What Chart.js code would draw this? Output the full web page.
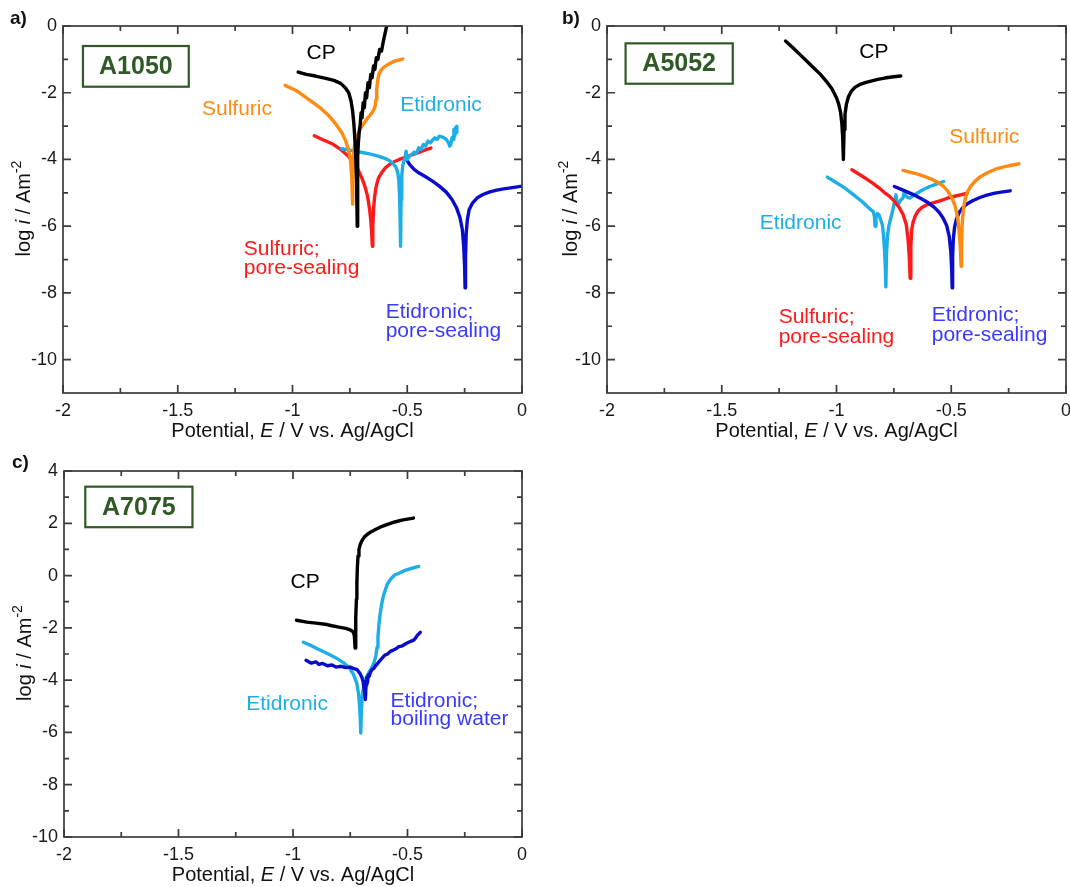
<!DOCTYPE html>
<html>
<head>
<meta charset="utf-8">
<script src="https://cdn.jsdelivr.net/npm/chart.js@4.4.0/dist/chart.umd.min.js"></script>
<style>
  html, body { margin: 0; padding: 0; background: #fff; overflow: hidden; width: 1070px; height: 887px; }
  canvas { position: absolute; }
</style>
</head>
<body>
<canvas id="pa" width="540" height="445" style="left:0;top:0"></canvas>
<canvas id="pb" width="545" height="445" style="left:540px;top:0"></canvas>
<canvas id="pc" width="540" height="442" style="left:0;top:445px"></canvas>
<script>
const FONT = '"Liberation Sans", Arial, Helvetica, sans-serif';
const COL = { cp: '#000000', sulf: '#ff8a12', etid: '#1eaee6', sulfSeal: '#ff1a1a', etidSeal: '#0a0ccc' };

// axis ticks (potential / V, log i / A m^-2)
const xTicks = [-2, -1.5, -1, -0.5, 0];
const xMinor = [-1.75, -1.25, -0.75, -0.25];
const yTicksAB = [0, -2, -4, -6, -8, -10];
const yMinorAB = [-1, -3, -5, -7, -9];
const yTicksC = [4, 2, 0, -2, -4, -6, -8, -10];
const yMinorC = [3, 1, -1, -3, -5, -7, -9];

// ---- a) A1050
const aCP_E = [-0.975,-0.94,-0.9,-0.86,-0.82,-0.79,-0.77,-0.755,-0.745,-0.738,-0.733,-0.729,-0.725,-0.721,-0.718,
  -0.716,-0.713,-0.709,-0.705,-0.701,-0.697,-0.692,-0.687,-0.682,-0.677,-0.671,-0.665,-0.659,-0.653,-0.647,-0.641,-0.635,-0.628,-0.62,-0.612,-0.604,-0.596,-0.588];
const aCP_y = [-1.38,-1.45,-1.5,-1.56,-1.63,-1.72,-1.85,-2.0,-2.25,-2.55,-2.9,-3.3,-3.8,-4.6,-6.0,
  -3.9,-3.5,-3.15,-2.95,-2.6,-2.75,-2.3,-2.45,-2.0,-2.15,-1.7,-1.85,-1.45,-1.55,-1.2,-1.3,-0.95,-1.0,-0.7,-0.75,-0.45,-0.2,0.05];
const aSulf_E = [-1.032,-0.98,-0.93,-0.88,-0.84,-0.81,-0.785,-0.768,-0.756,-0.748,-0.742,-0.738,
  -0.735,-0.73,-0.722,-0.712,-0.702,-0.692,-0.682,-0.672,-0.662,-0.652,-0.645,-0.64,-0.636,-0.633,-0.629,-0.624,-0.615,-0.603,-0.588,-0.57,-0.548,-0.52];
const aSulf_y = [-1.78,-1.95,-2.2,-2.45,-2.7,-2.95,-3.2,-3.45,-3.7,-4.0,-4.5,-5.34,
  -3.9,-3.6,-3.35,-3.2,-3.05,-2.95,-2.85,-2.75,-2.68,-2.58,-2.5,-2.4,-2.2,-1.9,-1.65,-1.45,-1.33,-1.24,-1.17,-1.1,-1.04,-0.99];
const aSulfSeal_E = [-0.905,-0.87,-0.83,-0.79,-0.76,-0.735,-0.715,-0.698,-0.685,-0.673,-0.665,-0.659,-0.655,-0.652,
  -0.65,-0.647,-0.642,-0.635,-0.625,-0.61,-0.595,-0.575,-0.555,-0.535,-0.515,-0.495,-0.475,-0.455,-0.435,-0.415,-0.397];
const aSulfSeal_y = [-3.29,-3.4,-3.52,-3.7,-3.88,-4.08,-4.3,-4.55,-4.8,-5.1,-5.45,-5.8,-6.2,-6.6,
  -6.0,-5.5,-5.1,-4.8,-4.55,-4.38,-4.25,-4.14,-4.06,-4.0,-3.95,-3.9,-3.85,-3.8,-3.75,-3.7,-3.66];
const aEtid_E = [-0.786,-0.75,-0.72,-0.69,-0.66,-0.63,-0.6,-0.578,-0.562,-0.55,-0.542,-0.537,-0.534,-0.531,-0.529,
  -0.527,-0.524,-0.52,-0.515,-0.51,-0.505,-0.5,-0.49,-0.48,-0.47,-0.46,-0.45,-0.44,-0.43,-0.42,-0.41,-0.4,-0.39,-0.38,-0.37,-0.36,-0.35,-0.34,-0.33,-0.32,-0.315,-0.31,-0.305,-0.3,-0.297,-0.293,-0.29,-0.287,-0.284];
const aEtid_y = [-3.68,-3.72,-3.76,-3.8,-3.84,-3.89,-3.96,-4.03,-4.12,-4.22,-4.37,-4.6,-5.0,-5.8,-6.6,
  -5.2,-4.5,-4.2,-4.05,-3.95,-3.75,-4.0,-3.9,-3.85,-3.78,-3.82,-3.65,-3.7,-3.55,-3.6,-3.45,-3.5,-3.42,-3.35,-3.4,-3.3,-3.32,-3.35,-3.4,-3.5,-3.6,-3.55,-3.35,-3.4,-3.1,-3.3,-3.05,-3.2,-3.0];
const aEtidSeal_E = [-0.502,-0.49,-0.47,-0.45,-0.42,-0.39,-0.36,-0.33,-0.305,-0.285,-0.27,-0.26,-0.254,-0.25,-0.248,
  -0.246,-0.243,-0.238,-0.23,-0.215,-0.195,-0.17,-0.14,-0.11,-0.08,-0.05,-0.02,0];
const aEtidSeal_y = [-4.01,-4.15,-4.3,-4.4,-4.52,-4.65,-4.8,-4.98,-5.2,-5.45,-5.75,-6.1,-6.6,-7.2,-7.85,
  -6.9,-6.2,-5.8,-5.5,-5.3,-5.15,-5.05,-4.97,-4.92,-4.88,-4.85,-4.82,-4.8];

// ---- b) A5052
const bCP_E = [-1.222,-1.19,-1.16,-1.13,-1.1,-1.07,-1.045,-1.02,-1.0,-0.99,-0.982,-0.977,-0.973,-0.97,
  -0.967,-0.963,-0.957,-0.948,-0.935,-0.92,-0.9,-0.875,-0.85,-0.82,-0.79,-0.76,-0.72];
const bCP_y = [-0.45,-0.65,-0.85,-1.05,-1.25,-1.45,-1.65,-1.88,-2.15,-2.35,-2.6,-2.9,-3.35,-4.0,
  -3.1,-2.65,-2.35,-2.12,-1.95,-1.84,-1.76,-1.7,-1.65,-1.6,-1.56,-1.53,-1.5];
const bSulf_E = [-0.71,-0.68,-0.65,-0.62,-0.59,-0.56,-0.535,-0.515,-0.497,-0.483,-0.472,-0.465,-0.46,-0.457,
  -0.455,-0.452,-0.447,-0.44,-0.43,-0.415,-0.395,-0.37,-0.34,-0.31,-0.28,-0.25,-0.22,-0.205];
const bSulf_y = [-4.33,-4.38,-4.43,-4.5,-4.58,-4.68,-4.8,-4.95,-5.15,-5.4,-5.75,-6.2,-6.7,-7.2,
  -6.4,-5.9,-5.5,-5.2,-4.98,-4.8,-4.64,-4.5,-4.39,-4.3,-4.24,-4.19,-4.15,-4.13];
const bSulfSeal_E = [-0.933,-0.9,-0.87,-0.844,-0.815,-0.79,-0.77,-0.748,-0.726,-0.71,-0.696,-0.688,-0.683,-0.679,
  -0.676,-0.672,-0.667,-0.657,-0.645,-0.63,-0.61,-0.58,-0.55,-0.52,-0.49,-0.46,-0.43];
const bSulfSeal_y = [-4.31,-4.45,-4.58,-4.7,-4.85,-5.0,-5.1,-5.25,-5.45,-5.65,-5.95,-6.4,-6.9,-7.56,
  -6.6,-6.1,-5.9,-5.7,-5.55,-5.45,-5.37,-5.3,-5.24,-5.17,-5.11,-5.06,-5.01];
const bEtid_E = [-1.04,-1.0,-0.963,-0.925,-0.889,-0.86,-0.84,-0.835,-0.832,-0.828,-0.822,-0.815,-0.808,-0.8,-0.795,-0.79,-0.787,-0.785,
  -0.782,-0.778,-0.772,-0.765,-0.756,-0.748,-0.741,-0.737,-0.733,-0.725,-0.718,-0.711,-0.707,-0.704,-0.698,-0.69,-0.681,-0.66,-0.637,-0.615,-0.593,-0.565,-0.533];
const bEtid_y = [-4.53,-4.7,-4.86,-5.06,-5.26,-5.45,-5.56,-5.7,-6.0,-5.7,-5.62,-5.66,-5.8,-5.96,-6.3,-6.8,-7.3,-7.82,
  -6.8,-6.3,-6.0,-5.8,-5.56,-5.3,-5.06,-5.25,-5.36,-5.28,-5.2,-5.16,-5.05,-4.96,-5.08,-5.14,-5.16,-5.06,-4.96,-4.88,-4.81,-4.74,-4.66];
const bEtidSeal_E = [-0.748,-0.72,-0.69,-0.66,-0.63,-0.6,-0.575,-0.553,-0.535,-0.52,-0.509,-0.502,-0.498,-0.496,
  -0.494,-0.491,-0.486,-0.478,-0.466,-0.45,-0.43,-0.405,-0.375,-0.345,-0.31,-0.275,-0.243];
const bEtidSeal_y = [-4.81,-4.89,-4.98,-5.07,-5.18,-5.3,-5.43,-5.58,-5.76,-5.98,-6.3,-6.75,-7.3,-7.85,
  -6.9,-6.4,-6.05,-5.8,-5.6,-5.45,-5.33,-5.23,-5.14,-5.07,-5.01,-4.97,-4.94];

// ---- c) A7075
const cCP_E = [-0.985,-0.94,-0.9,-0.86,-0.83,-0.8,-0.77,-0.75,-0.737,-0.732,-0.729,
  -0.727,-0.725,-0.723,-0.721,-0.719,-0.716,-0.712,-0.706,-0.698,-0.688,-0.675,-0.66,-0.64,-0.617,-0.59,-0.556,-0.52,-0.474];
const cCP_y = [-1.71,-1.78,-1.82,-1.86,-1.92,-1.97,-2.02,-2.08,-2.15,-2.3,-2.77,
  -2.3,-1.6,-0.9,-0.3,0.3,0.75,1.0,1.2,1.35,1.48,1.58,1.67,1.76,1.86,1.95,2.05,2.13,2.2];
const cEtid_E = [-0.955,-0.92,-0.887,-0.85,-0.812,-0.78,-0.752,-0.735,-0.722,-0.714,-0.709,-0.706,-0.704,
  -0.701,-0.697,-0.69,-0.68,-0.668,-0.655,-0.645,-0.638,-0.633,-0.629,-0.625,-0.62,-0.614,-0.606,-0.597,-0.587,-0.572,-0.556,-0.535,-0.511,-0.48,-0.451];
const cEtid_y = [-2.55,-2.68,-2.83,-2.98,-3.15,-3.33,-3.55,-3.8,-4.1,-4.5,-5.0,-5.5,-6.02,
  -5.1,-4.55,-4.2,-3.9,-3.7,-3.5,-3.3,-3.05,-2.75,-2.35,-1.9,-1.5,-1.15,-0.8,-0.55,-0.3,-0.12,0.02,0.1,0.2,0.28,0.35];
const cEtidBoil_E = [-0.943,-0.92,-0.9,-0.887,-0.87,-0.85,-0.83,-0.812,-0.79,-0.77,-0.75,-0.737,-0.72,-0.707,-0.699,-0.694,-0.69,-0.687,-0.684,
  -0.681,-0.678,-0.675,-0.671,-0.667,-0.662,-0.655,-0.647,-0.64,-0.632,-0.62,-0.61,-0.6,-0.587,-0.575,-0.562,-0.55,-0.538,-0.526,-0.51,-0.495,-0.481,-0.47,-0.458,-0.444];
const cEtidBoil_y = [-3.24,-3.35,-3.3,-3.4,-3.36,-3.45,-3.42,-3.5,-3.47,-3.52,-3.5,-3.55,-3.6,-3.75,-3.9,-4.05,-4.3,-4.5,-4.74,
  -4.2,-3.9,-4.1,-3.8,-3.85,-3.7,-3.6,-3.55,-3.45,-3.38,-3.25,-3.15,-3.05,-3.0,-2.9,-2.85,-2.8,-2.72,-2.7,-2.62,-2.55,-2.5,-2.45,-2.3,-2.17];

const pts = (E, y) => E.map((e, i) => ({ x: e, y: y[i] }));
const line = (E, y, color) => ({
  data: pts(E, y), borderColor: color, backgroundColor: color, borderWidth: 3.4,
  showLine: true, pointRadius: 0, tension: 0, borderJoinStyle: 'round', borderCapStyle: 'round'
});

function rich(ctx, parts, cx, cy) {
  let w = 0;
  parts.forEach(p => { ctx.font = p.f; p.w = ctx.measureText(p.t).width; w += p.w; });
  let x = cx - w / 2;
  ctx.textAlign = 'left';
  ctx.textBaseline = 'middle';
  parts.forEach(p => { ctx.font = p.f; ctx.fillText(p.t, x, cy + (p.dy || 0)); x += p.w; });
}

const decor = {
  id: 'decor',
  afterDraw(chart, args, o) {
    const ctx = chart.ctx, a = chart.chartArea, sx = chart.scales.x, sy = chart.scales.y;
    ctx.save();
    // frame and inward ticks on all four sides
    ctx.strokeStyle = '#3a3a3a';
    ctx.lineWidth = 1.7;
    ctx.strokeRect(a.left, a.top, a.right - a.left, a.bottom - a.top);
    ctx.beginPath();
    const xt = (vals, len) => vals.forEach(v => {
      const px = sx.getPixelForValue(v);
      ctx.moveTo(px, a.bottom); ctx.lineTo(px, a.bottom - len);
      ctx.moveTo(px, a.top); ctx.lineTo(px, a.top + len);
    });
    const yt = (vals, len) => vals.forEach(v => {
      const py = sy.getPixelForValue(v);
      ctx.moveTo(a.left, py); ctx.lineTo(a.left + len, py);
      ctx.moveTo(a.right, py); ctx.lineTo(a.right - len, py);
    });
    xt(xTicks, 8); xt(xMinor, 5); yt(o.yMajor, 8); yt(o.yMinor, 5);
    ctx.stroke();

    // alloy box
    const b = o.box;
    const bx1 = sx.getPixelForValue(b.x1), bx2 = sx.getPixelForValue(b.x2);
    const by1 = sy.getPixelForValue(b.y1), by2 = sy.getPixelForValue(b.y2);
    ctx.strokeStyle = '#2f5a26';
    ctx.lineWidth = 2.2;
    ctx.strokeRect(bx1, by1, bx2 - bx1, by2 - by1);
    ctx.fillStyle = '#2f5a26';
    ctx.font = `bold 25px ${FONT}`;
    ctx.textAlign = 'center';
    ctx.textBaseline = 'middle';
    ctx.fillText(b.t, (bx1 + bx2) / 2, (by1 + by2) / 2 + 1);

    // curve labels
    o.labels.forEach(l => {
      ctx.fillStyle = l.c;
      ctx.font = `21px ${FONT}`;
      ctx.textAlign = l.align || 'center';
      ctx.textBaseline = 'middle';
      ctx.fillText(l.t, sx.getPixelForValue(l.x), sy.getPixelForValue(l.y));
    });

    // panel letter
    ctx.fillStyle = '#111';
    ctx.font = `bold 19px ${FONT}`;
    ctx.textAlign = 'left';
    ctx.textBaseline = 'middle';
    ctx.fillText(o.letter, o.letterX, o.letterY);

    // axis titles
    ctx.fillStyle = '#111';
    rich(ctx, [
      { t: 'Potential, ', f: `20px ${FONT}` },
      { t: 'E', f: `italic 20px ${FONT}` },
      { t: ' / V vs. Ag/AgCl', f: `20px ${FONT}` }
    ], (a.left + a.right) / 2, a.bottom + 38);
    ctx.translate(o.yTitleX, (a.top + a.bottom) / 2 - 1);
    ctx.rotate(-Math.PI / 2);
    rich(ctx, [
      { t: 'log ', f: `20px ${FONT}` },
      { t: 'i', f: `italic 20px ${FONT}` },
      { t: ' / Am', f: `20px ${FONT}` },
      { t: '-2', f: `14px ${FONT}`, dy: -7 }
    ], 0, 0);
    ctx.restore();
  }
};

function panel(id, datasets, yMin, yMax, yTicks, deco, pad, yW, xH) {
  return new Chart(document.getElementById(id), {
    type: 'scatter',
    data: { datasets },
    options: {
      responsive: false,
      animation: false,
      devicePixelRatio: 1,
      layout: { padding: pad },
      plugins: { legend: { display: false }, tooltip: { enabled: false }, decor: deco },
      scales: {
        x: {
          type: 'linear', min: -2, max: 0,
          grid: { display: false, drawTicks: false }, border: { display: false },
          afterBuildTicks: s => { s.ticks = xTicks.map(v => ({ value: v })); },
          afterFit: s => { s.height = xH; },
          ticks: { callback: v => String(v), font: { size: 18, family: FONT }, color: '#1a1a1a', padding: 7, maxRotation: 0, autoSkip: false }
        },
        y: {
          type: 'linear', min: yMin, max: yMax,
          grid: { display: false, drawTicks: false }, border: { display: false },
          afterBuildTicks: s => { s.ticks = yTicks.map(v => ({ value: v })); },
          afterFit: s => { s.width = yW; },
          ticks: { callback: v => String(v), font: { size: 18, family: FONT }, color: '#1a1a1a', padding: 6, autoSkip: false }
        }
      }
    },
    plugins: [decor]
  });
}

panel('pa', [
  line(aCP_E, aCP_y, COL.cp),
  line(aSulf_E, aSulf_y, COL.sulf),
  line(aEtid_E, aEtid_y, COL.etid),
  line(aSulfSeal_E, aSulfSeal_y, COL.sulfSeal),
  line(aEtidSeal_E, aEtidSeal_y, COL.etidSeal)
], -11, 0, yTicksAB, {
  yMajor: yTicksAB, yMinor: yMinorAB, letter: 'a)', letterX: 10, letterY: 19, yTitleX: 24,
  box: { t: 'A1050', x1: -1.913, x2: -1.452, y1: -0.6, y2: -1.82 },
  labels: [
    { t: 'CP', x: -0.875, y: -0.82, c: '#000' },
    { t: 'Sulfuric', x: -1.242, y: -2.5, c: COL.sulf },
    { t: 'Etidronic', x: -0.353, y: -2.38, c: COL.etid },
    { t: 'Sulfuric;', x: -1.212, y: -6.69, c: COL.sulfSeal, align: 'left' },
    { t: 'pore-sealing', x: -1.212, y: -7.27, c: COL.sulfSeal, align: 'left' },
    { t: 'Etidronic;', x: -0.594, y: -8.58, c: '#3a3aff', align: 'left' },
    { t: 'pore-sealing', x: -0.594, y: -9.16, c: '#3a3aff', align: 'left' }
  ]
}, { top: 26, right: 18, left: 0, bottom: 0 }, 63, 52);

panel('pb', [
  line(bCP_E, bCP_y, COL.cp),
  line(bSulf_E, bSulf_y, COL.sulf),
  line(bEtidSeal_E, bEtidSeal_y, COL.etidSeal),
  line(bSulfSeal_E, bSulfSeal_y, COL.sulfSeal),
  line(bEtid_E, bEtid_y, COL.etid)
], -11, 0, yTicksAB, {
  yMajor: yTicksAB, yMinor: yMinorAB, letter: 'b)', letterX: 22, letterY: 19, yTitleX: 31,
  box: { t: 'A5052', x1: -1.919, x2: -1.452, y1: -0.52, y2: -1.73 },
  labels: [
    { t: 'CP', x: -0.837, y: -0.8, c: '#000' },
    { t: 'Sulfuric', x: -0.356, y: -3.34, c: COL.sulf },
    { t: 'Etidronic', x: -1.156, y: -5.91, c: COL.etid },
    { t: 'Sulfuric;', x: -1.252, y: -8.74, c: COL.sulfSeal, align: 'left' },
    { t: 'pore-sealing', x: -1.252, y: -9.32, c: COL.sulfSeal, align: 'left' },
    { t: 'Etidronic;', x: -0.585, y: -8.68, c: '#3a3aff', align: 'left' },
    { t: 'pore-sealing', x: -0.585, y: -9.26, c: '#3a3aff', align: 'left' }
  ]
}, { top: 26, right: 19, left: 0, bottom: 0 }, 67, 52);

panel('pc', [
  line(cCP_E, cCP_y, COL.cp),
  line(cEtidBoil_E, cEtidBoil_y, COL.etidSeal),
  line(cEtid_E, cEtid_y, COL.etid)
], -10, 4, yTicksC, {
  yMajor: yTicksC, yMinor: yMinorC, letter: 'c)', letterX: 12, letterY: 18, yTitleX: 25,
  box: { t: 'A7075', x1: -1.907, x2: -1.439, y1: 3.4, y2: 1.85 },
  labels: [
    { t: 'CP', x: -0.947, y: -0.25, c: '#000' },
    { t: 'Etidronic', x: -1.026, y: -4.93, c: COL.etid },
    { t: 'Etidronic;', x: -0.574, y: -4.81, c: '#3a3aff', align: 'left' },
    { t: 'boiling water', x: -0.574, y: -5.5, c: '#3a3aff', align: 'left' }
  ]
}, { top: 26, right: 18, left: 0, bottom: 0 }, 64, 50);
</script>
</body>
</html>
